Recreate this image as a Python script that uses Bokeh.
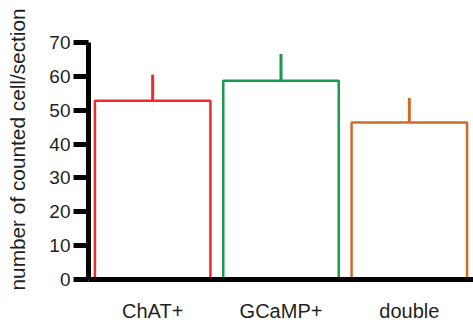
from bokeh.plotting import figure
from bokeh.models import Range1d, FixedTicker, ColumnDataSource
from bokeh.embed import file_html
from bokeh.resources import INLINE

categories = ["ChAT+", "GCaMP+", "double"]
means = [52.8, 58.7, 46.4]
errors = [7.7, 7.9, 7.2]
colors = ["#EE2A2C", "#1A9A4C", "#D06A2B"]
y_ticks = [0, 10, 20, 30, 40, 50, 60, 70]
y_label = "number of counted cell/section"

FONT = "Liberation Sans"
TXT = "#231F20"

xs = [i + 0.5 for i in range(len(categories))]
tops = [m + e for m, e in zip(means, errors)]
src = ColumnDataSource(dict(x=xs, m=means, t=tops, c=colors))

p = figure(width=473, height=324, output_backend="svg", toolbar_location=None,
           x_range=Range1d(0, len(categories)), y_range=Range1d(0, 70),
           min_border_left=88, min_border_right=0, min_border_top=42, min_border_bottom=45)
p.outline_line_color = None
p.xgrid.visible = False
p.ygrid.visible = False
p.background_fill_color = "white"
p.border_fill_color = "white"

p.vbar(x="x", top="m", bottom=0, width=0.9, source=src, fill_color=None,
       line_color="c", line_width=2.5)
p.segment(x0="x", y0="m", x1="x", y1="t", source=src, line_color="c", line_width=3)

ya = p.yaxis[0]
ya.ticker = FixedTicker(ticks=y_ticks)
ya.axis_line_width = 5
ya.axis_line_color = "black"
ya.major_tick_line_width = 5
ya.major_tick_line_color = "black"
ya.major_tick_out = 15
ya.major_tick_in = 0
ya.minor_tick_line_color = None
ya.major_label_text_font = FONT
ya.major_label_text_font_size = "19px"
ya.major_label_text_color = TXT
ya.major_label_standoff = 3
# leading no-break spaces lift the visible label a little above the frame centre
ya.axis_label = "\u00a0\u00a0\u00a0\u00a0" + y_label
ya.axis_label_standoff = 17
ya.axis_label_text_font = FONT
ya.axis_label_text_font_size = "20.8px"
ya.axis_label_text_font_style = "normal"
ya.axis_label_text_color = TXT

xa = p.xaxis[0]
xa.ticker = FixedTicker(ticks=xs)
xa.major_label_overrides = {x: c for x, c in zip(xs, categories)}
xa.axis_line_width = 5
xa.axis_line_color = "black"
xa.major_tick_line_color = None
xa.major_tick_out = 0
xa.major_tick_in = 0
xa.minor_tick_line_color = None
xa.major_label_text_font = FONT
xa.major_label_text_font_size = "20px"
xa.major_label_text_color = TXT
xa.major_label_standoff = 20

open("out.html", "w").write(file_html(p, INLINE))
